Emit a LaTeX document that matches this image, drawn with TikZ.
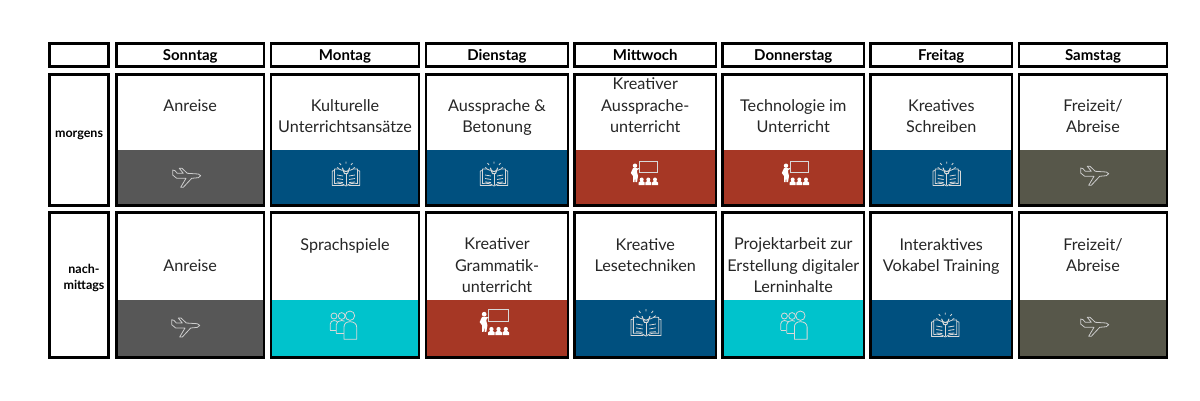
\documentclass[tikz,border=0pt]{standalone}
\usepackage{fontspec}
\setmainfont{Lato}
\definecolor{cgray}{HTML}{575757}
\definecolor{cblue}{HTML}{00507F}
\definecolor{cred}{HTML}{A63725}
\definecolor{cteal}{HTML}{00C3CC}
\definecolor{colive}{HTML}{57574A}
\definecolor{ctext}{HTML}{262626}
\tikzset{
  frame/.style={draw=black,line width=2.5pt,fill=none},
  celltext/.style={anchor=north,inner sep=0pt,align=center,text=ctext,font=\fontsize{16.2}{21.5}\selectfont},
  headtext/.style={inner sep=0pt,align=center,text=black,font=\fontsize{15}{16}\selectfont\bfseries},
  sidetext/.style={inner sep=0pt,align=center,text=black,font=\fontsize{12.5}{16}\selectfont\bfseries},
  iconline/.style={draw=white!85!black,line width=0.8pt,line join=round,fill=none},
  planeicon/.pic={
    \draw[iconline,draw=white!80!black] (14.7,-1.3) -- (12.3,-3) -- (1.3,-3.7) -- (-4,-8.7) -- (-6.7,-8.7) -- (-2.7,-3.7) -- (-8.7,-3.7) -- (-11,-6.3) -- (-13.3,-7) -- (-13.3,-2) -- (-9.3,1.3) -- (0,1.3) -- (-5.3,10.3) -- (-2.7,10.3) -- (5.7,1.3) -- (12.3,0.7) -- cycle;
  },
  bookicon/.pic={
    \draw[iconline] (0,11) .. controls (-4,8) and (-8,8) .. (-11.5,8.5) -- (-11.5,-6) .. controls (-8,-6.5) and (-6,-6) .. (-3.5,-4.5);
    \draw[iconline] (0,11) .. controls (4,8) and (8,8) .. (11.5,8.5) -- (11.5,-6) .. controls (8,-6.5) and (6,-6) .. (3.5,-4.5);
    \draw[iconline] (-11.5,-4.5) -- (-13.7,-4) -- (-13.7,10.5) -- (-2.5,10.5) (11.5,-4.5) -- (13.7,-4) -- (13.7,10.5) -- (2.5,10.5);
    \draw[iconline] (0,-1) -- (0,10);
    \draw[iconline] (-9,0) -- (-3,1) (-9,3.5) -- (-3,4.5) (-9,7) -- (-3,7.5) (9,0) -- (3,1) (9,3.5) -- (3,4.5) (9,7) -- (3,7.5);
    \draw[iconline,line width=1pt] (-1.5,-1.5) .. controls (-1.5,-3) and (-3.6,-4.5) .. (-3.6,-7) arc[start angle=180,end angle=0,radius=3.6] .. controls (3.6,-4.5) and (1.5,-3) .. (1.5,-1.5) -- cycle;
    \draw[iconline] (0,-11.5) -- (0,-13.5) (-5,-10) -- (-6.5,-12) (5,-10) -- (6.5,-12) (-7,-6.5) -- (-9,-7.5) (7,-6.5) -- (9,-7.5);
  },
  teachicon/.pic={
    \draw[white!85!black,line width=0.8pt] (-5.7,-10.3) rectangle (12.7,0.7);
    \draw[white,line width=1pt] (-6,-3.5) -- (-9,-2);
    \fill[white] (-10,-6.3) circle[radius=2.2];
    \fill[white] (-12,-3.8) -- (-7.5,-3.8) -- (-8,0) -- (-7,4) -- (-8,10) -- (-9.5,10) -- (-10,5) -- (-10.5,10) -- (-12,10) -- (-12,4) -- (-14.2,1) -- cycle;
    \foreach \sx in {-3.3,3.3,10}{
      \fill[white] (\sx,7.5) circle[radius=2];
      \fill[white] (\sx-3,13) -- (\sx-3,10.5) -- (\sx-1,9) -- (\sx+1,9) -- (\sx+3,10.5) -- (\sx+3,13) -- cycle;
    }
  },
  groupicon/.pic={
    \draw[iconline] (-11,-9) circle[radius=3];
    \draw[iconline] (-14.7,5) -- (-14.7,-1) .. controls (-14.7,-3) and (-13,-4.5) .. (-11,-4.5) .. controls (-9,-4.5) and (-7.8,-3.5) .. (-7.4,-2.5);
    \draw[iconline] (-14.7,5) -- (-9,5);
    \draw[iconline] (-3.3,-9) circle[radius=3.4];
    \draw[iconline] (-8.7,8.3) -- (-8.7,-0.5) .. controls (-8.7,-3) and (-6,-4.5) .. (-3.3,-4.5) .. controls (-2,-4.5) and (-1.2,-4.2) .. (-0.5,-3.8);
    \draw[iconline] (-8.7,8.3) -- (-1,8.3);
    \draw[iconline] (5,-9.3) circle[radius=4.7];
    \draw[iconline] (-1,14.3) -- (-1,2) .. controls (-1,-1.5) and (1.5,-3.3) .. (5,-3.3) .. controls (8.5,-3.3) and (11.7,-1.5) .. (11.7,2) -- (11.7,14.3) -- cycle;
  },
}
\newcommand{\cellbox}[8]{%
  % name, x1, x2, y1, ysplit, y2, colour, text-top
  \fill[#7] (#2,#5) rectangle (#3,#6);
  \draw[frame] (#2,#4) rectangle (#3,#6);
  \node[celltext] (#1) at ({(#2+#3)/2},#8)
}
\begin{document}
\begin{tikzpicture}[x=1pt,y=-1pt]
\useasboundingbox (0,0) rectangle (1200,400);
\fill[white] (0,0) rectangle (1200,400);
% header row
\draw[frame] (49.5,43.5) rectangle (108.5,66.5);
\foreach \n/\a/\b/\t in {hso/116.5/264/Sonntag,hmo/271/419/Montag,hdi/426/568/Dienstag,hmi/574.5/716/Mittwoch,hdo/722.5/864/Donnerstag,hfr/870.5/1012/Freitag,hsa/1019/1167/Samstag}{
  \draw[frame] (\a,43.5) rectangle (\b,66.5);
  \node[headtext,anchor=base] (\n) at ({(\a+\b)/2},60) {\t};
}
% side labels
\draw[frame] (49.5,74.5) rectangle (108.5,205.5);
\node[sidetext] (morgens) at (79,135) {morgens};
\draw[frame] (49.5,212.5) rectangle (108.5,357.5);
\node[sidetext] (nachm) at (84,278) {nach-\\mittags};
% morning row
\cellbox{a1}{116.5}{264}{74.5}{150}{205.5}{cgray}{99} {Anreise};
\cellbox{a2}{271}{419}{74.5}{150}{205.5}{cblue}{99} {Kulturelle\\Unterrichtsansätze};
\cellbox{a3}{426}{568}{74.5}{150}{205.5}{cblue}{99} {Aussprache \&\\Betonung};
\cellbox{a4}{574.5}{716}{74.5}{150}{205.5}{cred}{77.5} {Kreativer\\Aussprache-\\unterricht};
\cellbox{a5}{722.5}{864}{74.5}{150}{205.5}{cred}{99} {Technologie im\\Unterricht};
\cellbox{a6}{870.5}{1012}{74.5}{150}{205.5}{cblue}{99} {Kreatives\\Schreiben};
\cellbox{a7}{1019}{1167}{74.5}{150}{205.5}{colive}{99} {Freizeit/\\Abreise};
% afternoon row
\cellbox{b1}{116.5}{264}{212.5}{300}{357.5}{cgray}{259} {Anreise};
\cellbox{b2}{271}{419}{212.5}{300}{357.5}{cteal}{238} {Sprachspiele};
\cellbox{b3}{426}{568}{212.5}{300}{357.5}{cred}{237.5} {Kreativer\\Grammatik-\\unterricht};
\cellbox{b4}{574.5}{716}{212.5}{300}{357.5}{cblue}{238} {Kreative\\Lesetechniken};
\cellbox{b5}{722.5}{864}{212.5}{300}{357.5}{cteal}{237.5} {Projektarbeit zur\\Erstellung digitaler\\Lerninhalte};
\cellbox{b6}{870.5}{1012}{212.5}{300}{357.5}{cblue}{238} {Interaktives\\Vokabel Training};
\cellbox{b7}{1019}{1167}{212.5}{300}{357.5}{colive}{238} {Freizeit/\\Abreise};
% icons
\pic at (186,177) {planeicon};
\pic at (346,175) {bookicon};
\pic at (494,175) {bookicon};
\pic at (645,172) {teachicon};
\pic at (796,172) {teachicon};
\pic at (946.7,175) {bookicon};
\pic at (1094,175) {planeicon};
\pic at (185,326.7) {planeicon};
\pic at (345,325) {groupicon};
\pic[scale=1.08] at (495,321) {teachicon};
\pic[scale=1.1] at (646,324) {bookicon};
\pic at (795.4,325) {groupicon};
\pic at (945.3,326) {bookicon};
\pic at (1094,326) {planeicon};
\end{tikzpicture}
\end{document}
